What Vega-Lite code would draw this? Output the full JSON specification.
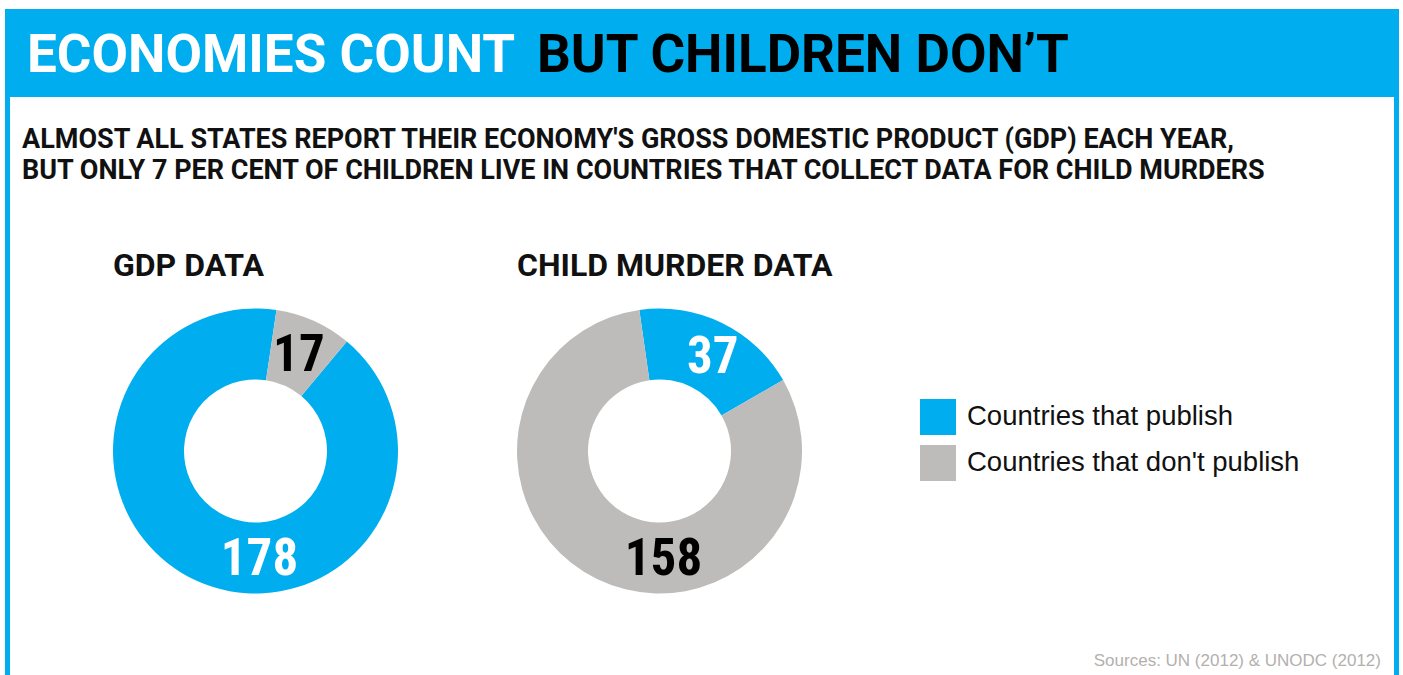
{
  "$schema": "https://vega.github.io/schema/vega-lite/v6.json",
  "background": "white",
  "padding": {"left": 5, "top": 9, "right": 4, "bottom": 0},
  "spacing": 0,
  "config": {"view": {"stroke": null}, "font": "Liberation Sans"},
  "datasets": {
    "donuts": [
      {"chart": "GDP DATA", "status": "Countries that publish", "count": 178},
      {"chart": "GDP DATA", "status": "Countries that don't publish", "count": 17},
      {"chart": "CHILD MURDER DATA", "status": "Countries that publish", "count": 37},
      {"chart": "CHILD MURDER DATA", "status": "Countries that don't publish", "count": 158}
    ]
  },
  "vconcat": [
    {
      "width": 1394,
      "height": 88,
      "view": {"fill": "#00AEEF", "stroke": null},
      "data": {"values": [{}]},
      "layer": [
        {
          "mark": {"type": "text", "text": "ECONOMIES COUNT", "align": "left", "baseline": "alphabetic", "font": "Roboto", "fontWeight": "bold", "fontSize": 53, "color": "white"},
          "encoding": {"x": {"value": 22}, "y": {"value": 63}}
        },
        {
          "mark": {"type": "text", "text": "BUT CHILDREN DON’T", "align": "left", "baseline": "alphabetic", "font": "Roboto", "fontWeight": "bold", "fontSize": 53, "color": "black"},
          "encoding": {"x": {"value": 532}, "y": {"value": 63}}
        }
      ]
    },
    {
      "spacing": 0,
      "hconcat": [
        {
          "width": 5, "height": 578,
          "view": {"fill": "#00AEEF", "stroke": null},
          "data": {"values": [{}]},
          "mark": {"type": "rect", "color": "#00AEEF"},
          "encoding": {}
        },
        {
          "width": 1384,
          "height": 578,
          "data": {"name": "donuts"},
          "layer": [
            {
              "data": {"values": [{}]},
              "mark": {"type": "text", "text": ["ALMOST ALL STATES REPORT THEIR ECONOMY'S GROSS DOMESTIC PRODUCT (GDP) EACH YEAR,", "BUT ONLY 7 PER CENT OF CHILDREN LIVE IN COUNTRIES THAT COLLECT DATA FOR CHILD MURDERS"], "align": "left", "baseline": "alphabetic", "lineHeight": 31, "font": "Roboto", "fontWeight": "bold", "fontSize": 27, "color": "#111111"},
              "encoding": {"x": {"value": 12}, "y": {"value": 51}}
            },
            {
              "transform": [{"filter": "datum.status === 'Countries that publish'"}],
              "mark": {"type": "text", "align": "left", "baseline": "alphabetic", "dx": -142.5, "font": "Roboto", "fontWeight": "bold", "fontSize": 32, "color": "#111111"},
              "encoding": {
                "x": {"field": "chart", "type": "nominal", "axis": null, "scale": {"type": "point", "domain": ["GDP DATA", "CHILD MURDER DATA"], "range": [245.5, 649.5], "padding": 0}},
                "y": {"value": 179},
                "text": {"field": "chart"}
              }
            },
            {
              "transform": [{"filter": "datum.chart === 'GDP DATA'"}],
              "layer": [
                {
                  "mark": {"type": "arc", "outerRadius": 142.5, "innerRadius": 71.5, "stroke": null},
                  "encoding": {
                    "x": {"field": "chart", "type": "nominal", "axis": null, "scale": {"type": "point", "domain": ["GDP DATA", "CHILD MURDER DATA"], "range": [245.5, 649.5], "padding": 0}},
                    "y": {"value": 354},
                    "theta": {"field": "count", "type": "quantitative", "stack": true, "scale": {"range": [0.148, 6.431]}},
                    "order": {"field": "count", "sort": "ascending"},
                    "color": {"field": "status", "type": "nominal", "scale": {"domain": ["Countries that publish", "Countries that don't publish"], "range": ["#00AEEF", "#BDBCBB"]},
                      "legend": {"orient": "none", "legendX": 915, "legendY": 390, "title": null, "symbolType": "square", "symbolSize": 1296, "symbolStrokeWidth": 0, "symbolOpacity": 1, "labelFontSize": 27.5, "labelFont": "Liberation Sans", "labelColor": "#111111", "labelOffset": 11, "rowPadding": 10, "padding": 0, "labelLimit": 400}}
                  }
                },
                {
                  "mark": {"type": "text", "radius": 106, "dy": 2, "font": "Roboto Condensed", "fontWeight": "bold", "fontSize": 51, "baseline": "middle", "align": "center"},
                  "encoding": {
                    "x": {"field": "chart", "type": "nominal", "axis": null},
                    "y": {"value": 354},
                    "theta": {"field": "count", "type": "quantitative", "stack": true},
                    "order": {"field": "count", "sort": "ascending"},
                    "text": {"field": "count", "type": "quantitative"},
                    "color": {"condition": {"test": "datum.status === 'Countries that publish'", "value": "white"}, "value": "black"},
                    "opacity": {"condition": {"test": "datum.count > 100", "value": 0}, "value": 1}
                  }
                }
              ]
            },
            {
              "transform": [{"filter": "datum.chart === 'CHILD MURDER DATA'"}],
              "layer": [
                {
                  "mark": {"type": "arc", "outerRadius": 142.5, "innerRadius": 71.5, "stroke": null},
                  "encoding": {
                    "x": {"field": "chart", "type": "nominal", "axis": null},
                    "y": {"value": 354},
                    "theta": {"field": "count", "type": "quantitative", "stack": true, "scale": {"range": [-0.142, 6.141]}},
                    "order": {"field": "count", "sort": "ascending"},
                    "color": {"field": "status", "type": "nominal", "scale": {"domain": ["Countries that publish", "Countries that don't publish"], "range": ["#00AEEF", "#BDBCBB"]},
                      "legend": {"orient": "none", "legendX": 915, "legendY": 390, "title": null, "symbolType": "square", "symbolSize": 1296, "symbolStrokeWidth": 0, "symbolOpacity": 1, "labelFontSize": 27.5, "labelFont": "Liberation Sans", "labelColor": "#111111", "labelOffset": 11, "rowPadding": 10, "padding": 0, "labelLimit": 400}}
                  }
                },
                {
                  "mark": {"type": "text", "radius": 108, "dx": 6, "dy": 4, "font": "Roboto Condensed", "fontWeight": "bold", "fontSize": 51, "baseline": "middle", "align": "center"},
                  "encoding": {
                    "x": {"field": "chart", "type": "nominal", "axis": null},
                    "y": {"value": 354},
                    "theta": {"field": "count", "type": "quantitative", "stack": true},
                    "order": {"field": "count", "sort": "ascending"},
                    "text": {"field": "count", "type": "quantitative"},
                    "color": {"condition": {"test": "datum.status === 'Countries that publish'", "value": "white"}, "value": "black"},
                    "opacity": {"condition": {"test": "datum.count > 100", "value": 0}, "value": 1}
                  }
                }
              ]
            },
            {
              "transform": [{"filter": "datum.count > 100"}],
              "mark": {"type": "text", "dx": 4, "dy": 109, "font": "Roboto Condensed", "fontWeight": "bold", "fontSize": 51, "baseline": "middle", "align": "center"},
              "encoding": {
                "x": {"field": "chart", "type": "nominal", "axis": null},
                "y": {"value": 354},
                "text": {"field": "count", "type": "quantitative"},
                "color": {"condition": {"test": "datum.status === 'Countries that publish'", "value": "white"}, "value": "black"}
              }
            },
            {
              "data": {"values": [{}]},
              "mark": {"type": "text", "text": "Sources: UN (2012) & UNODC (2012)", "align": "right", "baseline": "alphabetic", "font": "Liberation Sans", "fontSize": 17, "color": "#B3B0AE"},
              "encoding": {"x": {"value": 1371}, "y": {"value": 569}}
            }
          ],
          "resolve": {"scale": {"theta": "independent"}}
        },
        {
          "width": 5, "height": 578,
          "view": {"fill": "#00AEEF", "stroke": null},
          "data": {"values": [{}]},
          "mark": {"type": "rect", "color": "#00AEEF"},
          "encoding": {}
        }
      ]
    }
  ]
}
